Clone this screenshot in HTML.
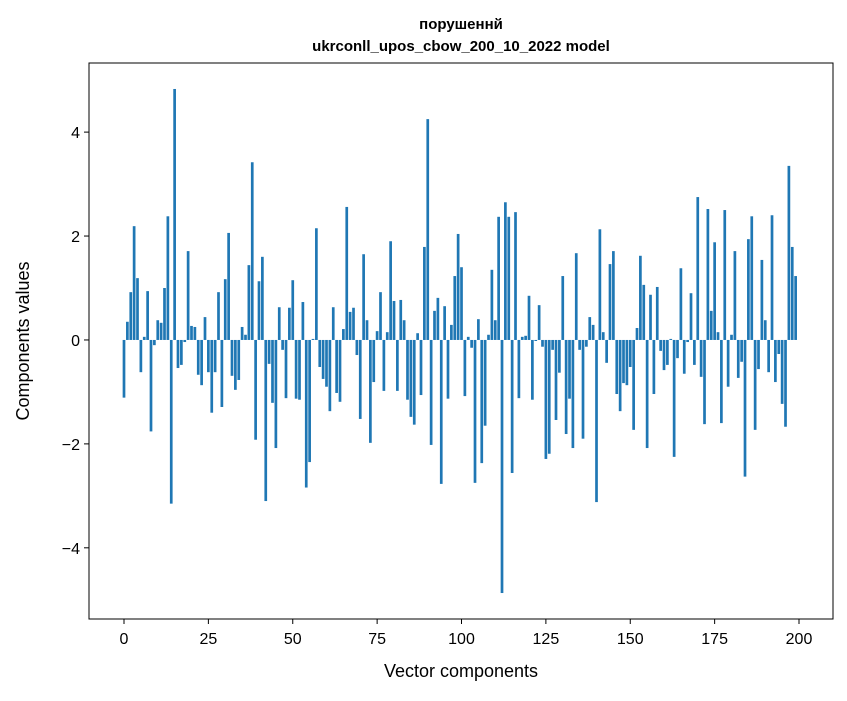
<!DOCTYPE html>
<html><head><meta charset="utf-8"><style>
body{margin:0;background:#fff;}
svg{font-family:"Liberation Sans","DejaVu Sans",sans-serif;}
</style></head><body>
<svg id="chart" width="847" height="696" viewBox="0 0 847 696">
<rect width="847" height="696" fill="#fff"/>
<text x="461" y="29" text-anchor="middle" font-size="15" font-weight="bold">порушеннй</text>
<text x="461" y="51" text-anchor="middle" font-size="15" font-weight="bold">ukrconll_upos_cbow_200_10_2022 model</text>
<g id="bars"></g>
<g id="xticks"></g>
<g id="yticks"></g>
<rect x="89" y="63" width="744" height="556" fill="none" stroke="#000" stroke-width="1"/>
<text x="461" y="677" text-anchor="middle" font-size="18">Vector components</text>
<text transform="translate(29,341) rotate(-90)" text-anchor="middle" font-size="18">Components values</text>
</svg>
<script>
const values = [-1.11,0.35,0.92,2.19,1.19,-0.62,0.06,0.94,-1.76,-0.1,0.38,0.33,1.0,2.38,-3.15,4.83,-0.54,-0.48,-0.04,1.71,
0.27,0.25,-0.67,-0.87,0.44,-0.62,-1.40,-0.62,0.92,-1.29,1.17,2.06,-0.69,-0.96,-0.77,0.25,0.1,1.44,3.42,-1.92,
1.13,1.6,-3.10,-0.46,-1.21,-2.08,0.63,-0.19,-1.12,0.62,1.15,-1.13,-1.15,0.73,-2.84,-2.35,0.02,2.15,-0.52,-0.75,
-0.9,-1.37,0.63,-1.02,-1.19,0.21,2.56,0.54,0.62,-0.29,-1.52,1.65,0.38,-1.98,-0.81,0.17,0.92,-0.98,0.15,1.9,
0.75,-0.98,0.77,0.38,-1.15,-1.48,-1.63,0.13,-1.06,1.79,4.25,-2.02,0.56,0.81,-2.77,0.65,-1.13,0.29,1.23,2.04,
1.40,-1.08,0.06,-0.15,-2.75,0.4,-2.37,-1.65,0.1,1.35,0.38,2.37,-4.87,2.65,2.37,-2.56,2.46,-1.12,0.06,0.08,
0.85,-1.15,-0.02,0.67,-0.13,-2.29,-2.19,-0.19,-1.54,-0.63,1.23,-1.81,-1.13,-2.08,1.67,-0.19,-1.9,-0.13,0.44,0.29,
-3.12,2.13,0.15,-0.44,1.46,1.71,-1.04,-1.37,-0.83,-0.87,-0.52,-1.73,0.23,1.62,1.06,-2.08,0.87,-1.04,1.02,-0.21,
-0.58,-0.48,0.02,-2.25,-0.35,1.38,-0.65,-0.04,0.9,-0.48,2.75,-0.71,-1.62,2.52,0.56,1.88,0.15,-1.6,2.5,-0.9,
0.1,1.71,-0.73,-0.42,-2.63,1.94,2.38,-1.73,-0.56,1.54,0.38,-0.62,2.4,-0.81,-0.27,-1.23,-1.67,3.35,1.79,1.23];
const xTicks = [0,25,50,75,100,125,150,175,200];
const yTicks = [-4,-2,0,2,4];
const NS='http://www.w3.org/2000/svg';
const X0=89,X1=833,Y0=63,Y1=619;
const xMin=-10.37,xMax=210.07,yMin=-5.37,yMax=5.33;
function sx(v){return X0+(v-xMin)/(xMax-xMin)*(X1-X0);}
function sy(v){return Y1-(v-yMin)/(yMax-yMin)*(Y1-Y0);}
const bars=document.getElementById('bars');
const bw=(sx(1)-sx(0))*0.8;
values.forEach((v,i)=>{
  const r=document.createElementNS(NS,'rect');
  const y=Math.min(sy(v),sy(0));
  r.setAttribute('x',sx(i)-bw/2);
  r.setAttribute('y',y);
  r.setAttribute('width',bw);
  r.setAttribute('height',Math.abs(sy(v)-sy(0)));
  r.setAttribute('fill','#1f77b4');
  
  
  bars.appendChild(r);
});
const xg=document.getElementById('xticks');
xTicks.forEach(t=>{
  const l=document.createElementNS(NS,'line');
  l.setAttribute('x1',sx(t));l.setAttribute('x2',sx(t));
  l.setAttribute('y1',Y1);l.setAttribute('y2',Y1+5);
  l.setAttribute('stroke','#000');
  
  
  xg.appendChild(l);
  const tx=document.createElementNS(NS,'text');
  tx.setAttribute('x',sx(t));tx.setAttribute('y',Y1+25);
  tx.setAttribute('text-anchor','middle');tx.setAttribute('font-size','16');
  tx.textContent=t;
  
  
  xg.appendChild(tx);
});
const yg=document.getElementById('yticks');
yTicks.forEach(t=>{
  const l=document.createElementNS(NS,'line');
  l.setAttribute('x1',X0-5);l.setAttribute('x2',X0);
  l.setAttribute('y1',sy(t));l.setAttribute('y2',sy(t));
  l.setAttribute('stroke','#000');
  
  
  yg.appendChild(l);
  const tx=document.createElementNS(NS,'text');
  tx.setAttribute('x',X0-9);tx.setAttribute('y',sy(t)+6);
  tx.setAttribute('text-anchor','end');tx.setAttribute('font-size','16');
  tx.textContent=(t<0?'\u2212'+Math.abs(t):String(t));
  
  
  yg.appendChild(tx);
});
</script>
</body></html>
